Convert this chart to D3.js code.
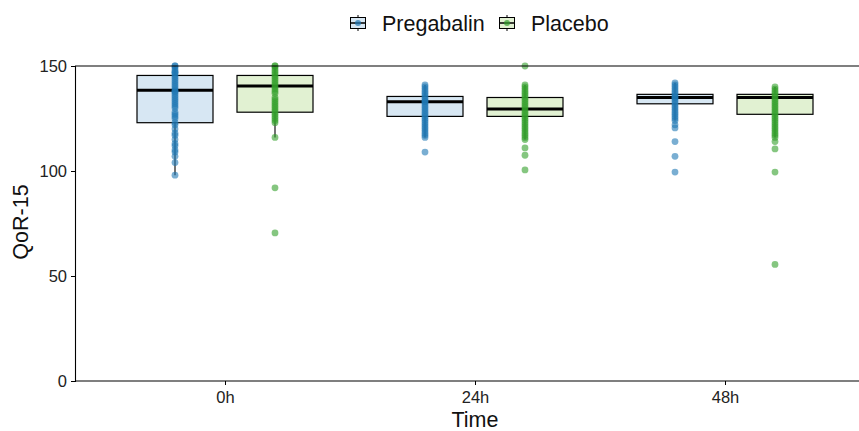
<!DOCTYPE html>
<html>
<head>
<meta charset="utf-8">
<script src="https://cdn.jsdelivr.net/npm/d3@7/dist/d3.min.js"></script>
<style>
  body { margin: 0; background: #fff; }
  svg { font-family: "Liberation Sans", Arial, sans-serif; }
</style>
</head>
<body>
<div id="chart"></div>
<script>
// categories and groups
const times = ["0h", "24h", "48h"];
const groups = ["Pregabalin", "Placebo"];
const yTicks = [0, 50, 100, 150];

// box stats (per time point)
const pregQ1 = [123, 126, 132];
const pregMed = [138.5, 133, 135];
const pregQ3 = [145.5, 135.5, 136.5];
const pregLo = [98, 116, 124];
const pregHi = [150, 141, 142];

const placQ1 = [128, 126, 127];
const placMed = [140.5, 129.5, 135];
const placQ3 = [145.5, 135, 136.5];
const placLo = [116, 115, 116];
const placHi = [150, 141, 140];

// individual scores (estimated)
const preg0h = [150, 150, 149, 148, 147, 147, 146, 145, 144, 143, 142, 141, 140, 139, 138, 138, 137, 136, 135, 134, 133, 132, 131, 130, 128, 127, 126, 125, 123, 122, 120, 118, 117, 115, 113, 112, 110, 109, 107, 104, 98];
const preg24h = [141, 140, 139, 138, 137, 136, 135, 134, 133, 133, 132, 131, 130, 129, 128, 127, 126, 125, 124, 123, 122, 121, 120, 119, 118, 117, 116, 109];
const preg48h = [142, 141, 140, 139, 138, 137, 136, 135, 135, 134, 133, 132, 131, 130, 129, 128, 127, 126, 125, 124, 122, 120.5, 114, 107, 99.5];

const plac0h = [150, 150, 149, 148, 147, 146, 145, 144, 143, 142, 141, 140, 139, 138, 137, 135, 134, 133, 132, 131, 130, 129, 128, 127, 126, 125, 124, 123, 116, 92, 70.5];
const plac24h = [150, 141, 140, 139, 138, 137, 136, 135, 134, 133, 132, 131, 130, 129, 128, 127, 126, 125, 124, 123, 122, 121, 120, 119, 118, 117, 116, 115, 111, 107.5, 100.5];
const plac48h = [140, 139, 138, 137, 136, 135, 134, 133, 132, 131, 130, 129, 128, 127, 126, 125, 124, 123, 122, 121, 120, 119, 118, 117, 116, 114, 110.5, 99.5, 55.5];

const colors = { Pregabalin: "#1f78b4", Placebo: "#33a02c" };
const fills = { Pregabalin: "#d7e7f3", Placebo: "#e1f1d2" };

const boxes = [];
times.forEach((t, i) => {
  boxes.push({ time: t, group: "Pregabalin", q1: pregQ1[i], med: pregMed[i], q3: pregQ3[i], lo: pregLo[i], hi: pregHi[i] });
  boxes.push({ time: t, group: "Placebo", q1: placQ1[i], med: placMed[i], q3: placQ3[i], lo: placLo[i], hi: placHi[i] });
});
const points = [];
[preg0h, preg24h, preg48h].forEach((arr, i) => arr.forEach(v => points.push({ time: times[i], group: "Pregabalin", v })));
[plac0h, plac24h, plac48h].forEach((arr, i) => arr.forEach(v => points.push({ time: times[i], group: "Placebo", v })));

const width = 859, height = 431;
const svg = d3.select("#chart").append("svg")
  .attr("width", width).attr("height", height);

// ggplot-style discrete axis: 1..3 with 0.6 padding
const axX = 75;
const xPos = d3.scaleLinear().domain([0.4, 3.6]).range([axX, axX + 800]);
const y = d3.scaleLinear().domain([0, 150]).range([381, 66]);
const xc = (t, g) => xPos(times.indexOf(t) + 1 + (g === "Pregabalin" ? -0.2 : 0.2));
const boxW = xPos(0.304) - xPos(0);

const plot = svg.append("g");

// whiskers
plot.selectAll(".whisker").data(boxes).enter().append("line")
  .attr("x1", d => xc(d.time, d.group)).attr("x2", d => xc(d.time, d.group))
  .attr("y1", d => y(d.lo)).attr("y2", d => y(d.hi))
  .attr("stroke", "#000").attr("stroke-width", 1.1);

// boxes
plot.selectAll(".box").data(boxes).enter().append("rect")
  .attr("x", d => xc(d.time, d.group) - boxW / 2)
  .attr("width", boxW)
  .attr("y", d => y(d.q3))
  .attr("height", d => y(d.q1) - y(d.q3))
  .attr("fill", d => fills[d.group])
  .attr("stroke", "#000").attr("stroke-width", 1.2);

plot.selectAll(".median").data(boxes).enter().append("line")
  .attr("x1", d => xc(d.time, d.group) - boxW / 2)
  .attr("x2", d => xc(d.time, d.group) + boxW / 2)
  .attr("y1", d => y(d.med)).attr("y2", d => y(d.med))
  .attr("stroke", "#000").attr("stroke-width", 3);

// points
plot.selectAll(".pt").data(points).enter().append("circle")
  .attr("cx", d => xc(d.time, d.group))
  .attr("cy", d => y(d.v))
  .attr("r", 3.4)
  .attr("fill", d => colors[d.group])
  .attr("fill-opacity", 0.6);

// axes
const yAxis = svg.append("g").attr("transform", `translate(${axX},0)`)
  .call(d3.axisLeft(y).tickValues(yTicks).tickSize(4).tickPadding(4));
yAxis.select(".domain").attr("stroke", "#000").attr("stroke-width", 1.1);
yAxis.selectAll("text").attr("font-size", 16.5).attr("fill", "#222");

const xBand = d3.scalePoint().domain(times).range([xPos(1), xPos(3)]);
const xAxis = svg.append("g").attr("transform", "translate(0,381)")
  .call(d3.axisBottom(xBand).tickSize(4).tickPadding(6));
xAxis.select(".domain").remove();
xAxis.selectAll("text").attr("font-size", 16.5).attr("fill", "#222");
svg.append("line").attr("x1", axX).attr("x2", width).attr("y1", 381).attr("y2", 381)
  .attr("stroke", "#000").attr("stroke-width", 1.1);
// top border line
svg.append("line").attr("x1", axX).attr("x2", width).attr("y1", 66).attr("y2", 66)
  .attr("stroke", "#000").attr("stroke-width", 1.1);

// titles
svg.append("text").attr("x", xPos(2)).attr("y", 427)
  .attr("text-anchor", "middle").attr("font-size", 21.5).attr("fill", "#111").text("Time");
svg.append("text").attr("transform", "translate(28,222) rotate(-90)")
  .attr("text-anchor", "middle").attr("font-size", 21.5).attr("fill", "#111").text("QoR-15");

// legend
const legX = [350, 499];
const leg = svg.append("g");
groups.forEach((g, i) => {
  const k = leg.append("g").attr("transform", `translate(${legX[i]},23)`);
  k.append("line").attr("x1", 8).attr("x2", 8).attr("y1", -8).attr("y2", 8).attr("stroke", "#000").attr("stroke-width", 1);
  k.append("rect").attr("x", 0.5).attr("y", -5.5).attr("width", 15).attr("height", 11)
    .attr("fill", fills[g]).attr("stroke", "#000").attr("stroke-width", 1);
  k.append("line").attr("x1", 0.5).attr("x2", 15.5).attr("y1", 0).attr("y2", 0).attr("stroke", "#000").attr("stroke-width", 1.5);
  k.append("circle").attr("cx", 8).attr("cy", 0).attr("r", 3).attr("fill", colors[g]).attr("fill-opacity", 0.7);
  k.append("text").attr("x", 32).attr("y", 7.5).attr("font-size", 21.5).attr("fill", "#111").text(g);
});
</script>
</body>
</html>
